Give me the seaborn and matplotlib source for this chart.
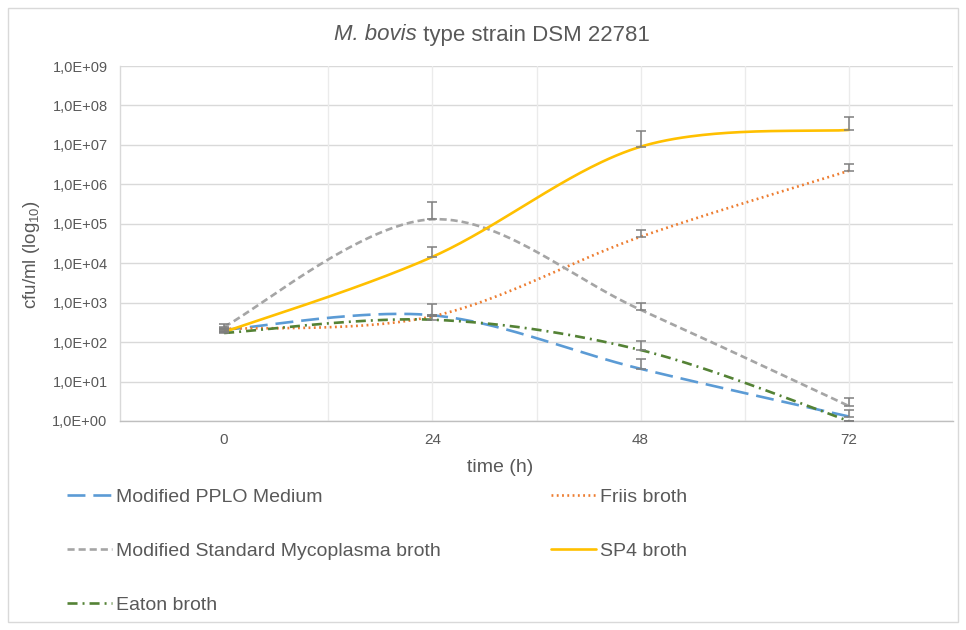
import numpy as np
import matplotlib
matplotlib.use("Agg")
import matplotlib.pyplot as plt
from matplotlib import font_manager
from matplotlib.patches import Rectangle
from matplotlib.lines import Line2D
from matplotlib.ticker import FixedLocator, FuncFormatter, NullLocator
import seaborn as sns

# ---- data -------------------------------------------------------------
times = [0, 24, 48, 72]

pplo = [205, 480, 21, 1.3]          # Modified PPLO Medium
friis = [215, 450, 4.7e4, 2.2e6]    # Friis broth
msm = [245, 1.3e5, 660, 2.4]        # Modified Standard Mycoplasma broth
sp4 = [180, 1.45e4, 9.0e6, 2.4e7]   # SP4 broth
eaton = [170, 370, 63, 1.0]         # Eaton broth

# upper error (absolute, same units as the values)
pplo_err = [12, 0, 16, 0.6]
friis_err = [12, 0, 2.3e4, 1.0e6]
msm_err = [40, 2.3e5, 340, 1.4]
sp4_err = [10, 1.15e4, 1.4e7, 2.6e7]
eaton_err = [10, 560, 44, 0]

legend_labels = [
    "Modified PPLO Medium",
    "Friis broth",
    "Modified Standard Mycoplasma broth",
    "SP4 broth",
    "Eaton broth",
]
y_ticks = [10.0 ** k for k in range(0, 10)]
x_ticks = [0, 24, 48, 72]

# ---- fonts --------------------------------------------------------------
sns.set_theme(style="white")
available = {f.name for f in font_manager.fontManager.ttflist}
narrow = "Liberation Sans Narrow" if "Liberation Sans Narrow" in available else "Liberation Sans"
regular = "Liberation Sans"
plt.rcParams["font.family"] = [regular, "DejaVu Sans"]
plt.rcParams["mathtext.fontset"] = "custom"
plt.rcParams["mathtext.rm"] = regular
plt.rcParams["mathtext.it"] = regular + ":italic"
text_col = "#595959"

W, H = 966, 630
fig = plt.figure(figsize=(W / 100, H / 100), dpi=100)
ax = fig.add_axes([120 / W, 1 - 421 / H, (953 - 120) / W, (421 - 66) / H])


def smooth(xs, ys, n=60):
    """Bezier smoothing (Catmull-Rom style) in log10 space."""
    px = np.asarray(xs, float)
    py = np.log10(np.asarray(ys, float))
    out_x, out_y = [], []
    m = len(px)
    for i in range(m - 1):
        i0, i3 = max(i - 1, 0), min(i + 2, m - 1)
        p0 = np.array([px[i], py[i]])
        p3 = np.array([px[i + 1], py[i + 1]])
        c1 = p0 + (np.array([px[i + 1], py[i + 1]]) - np.array([px[i0], py[i0]])) / 6
        c2 = p3 - (np.array([px[i3], py[i3]]) - np.array([px[i], py[i]])) / 6
        t = np.linspace(0, 1, n)[:, None]
        pts = ((1 - t) ** 3) * p0 + 3 * ((1 - t) ** 2) * t * c1 + 3 * (1 - t) * t ** 2 * c2 + t ** 3 * p3
        if i > 0:
            pts = pts[1:]
        out_x.extend(pts[:, 0])
        out_y.extend(pts[:, 1])
    return np.array(out_x), 10 ** np.array(out_y)


lw = 1.9
series = [
    (pplo, pplo_err, "#5B9BD5", (0, (6.8, 3.0)), "butt"),
    (friis, friis_err, "#ED7D31", (0, (0.7, 1.3)), "butt"),
    (msm, msm_err, "#A5A5A5", (0, (2.7, 1.5)), "butt"),
    (sp4, sp4_err, "#FFC000", "-", "butt"),
    (eaton, eaton_err, "#548235", (0, (3.8, 1.9, 0.75, 1.9)), "butt"),
]

# grid
for yv in y_ticks:
    ax.axhline(yv, color="#D9D9D9", lw=1.0, zorder=0)
for xv in range(12, 85, 12):
    ax.axvline(xv, color="#EBEBEB", lw=1.0, zorder=0)

handles = []
for (vals, errs, col, ls, cap), lab in zip(series, legend_labels):
    sx, sy = smooth(times, vals)
    sns.lineplot(x=sx, y=sy, ax=ax, color=col, lw=lw, linestyle=ls,
                 dash_capstyle=cap, sort=False, estimator=None, zorder=3)
    handles.append(Line2D([], [], color=col, lw=lw, linestyle=ls, dash_capstyle=cap, label=lab))

for vals, errs, col, ls, cap in series:
    ax.errorbar(times, vals, yerr=[np.zeros(len(vals)), errs], fmt="none",
                ecolor="#7F7F7F", elinewidth=1.1, capsize=3.5, capthick=1.1, zorder=4)

ax.set_yscale("log")
ax.set_ylim(1, 1e9)
ax.set_xlim(-12, 84)
ax.yaxis.set_major_locator(FixedLocator(y_ticks))
ax.yaxis.set_minor_locator(NullLocator())
ax.yaxis.set_major_formatter(FuncFormatter(lambda v, p: "1,0E+%02d" % int(round(np.log10(v)))))
ax.xaxis.set_major_locator(FixedLocator(x_ticks))
ax.tick_params(axis="both", length=0, colors=text_col, labelsize=10.5)
ax.tick_params(axis="y", pad=9)
ax.tick_params(axis="x", pad=9, labelsize=11)
for lbl in ax.get_xticklabels() + ax.get_yticklabels():
    lbl.set_fontfamily(narrow)
for side in ["top", "right"]:
    ax.spines[side].set_visible(False)
ax.spines["left"].set_color("#D9D9D9")
ax.spines["bottom"].set_color("#BFBFBF")
ax.spines["left"].set_linewidth(1.0)
ax.spines["bottom"].set_linewidth(1.0)
ax.set_xlabel("")
ax.set_ylabel("")

fig.text(500 / W, 1 - 467 / H, "time (h)", ha="center", va="center",
         color=text_col, fontsize=14, family=narrow)
fig.text(31 / W, 1 - 255 / H, r"cfu/ml (log$_{\mathregular{10}}$)", ha="center", va="center",
         rotation=90, color=text_col, fontsize=13.5, family=narrow)

# title: italic species name followed by upright text, centred as one line
title_y = 1 - 35 / H
t_it = fig.text(0, title_y, "M. bovis", style="italic", ha="left", va="center",
                color=text_col, fontsize=16, family=regular)
t_rm = fig.text(0, title_y, " type strain DSM 22781", ha="left", va="center",
                color=text_col, fontsize=16, family=regular)
renderer = fig.canvas.get_renderer()
w_it = t_it.get_window_extent(renderer).width
w_rm = t_rm.get_window_extent(renderer).width
x0 = 492 - (w_it + w_rm) / 2
t_it.set_x(x0 / W)
t_rm.set_x((x0 + w_it) / W)

leg_kw = dict(frameon=False, fontsize=14, handlelength=2.3, handletextpad=0.2,
              labelspacing=1.88, labelcolor=text_col, borderaxespad=0, borderpad=0)
leg1 = fig.legend(handles=[handles[0], handles[2], handles[4]], loc="upper left",
                  bbox_to_anchor=(67 / W, 1 - 488 / H), **leg_kw)
leg2 = fig.legend(handles=[handles[1], handles[3]], loc="upper left",
                  bbox_to_anchor=(551 / W, 1 - 488 / H), **leg_kw)

fig.patches.append(Rectangle((8 / W, 8 / H), (958 - 8) / W, (622 - 8) / H,
                             transform=fig.transFigure, fill=False,
                             edgecolor="#D9D9D9", lw=1.0))

fig.savefig("out.png", dpi=100, facecolor="white")
